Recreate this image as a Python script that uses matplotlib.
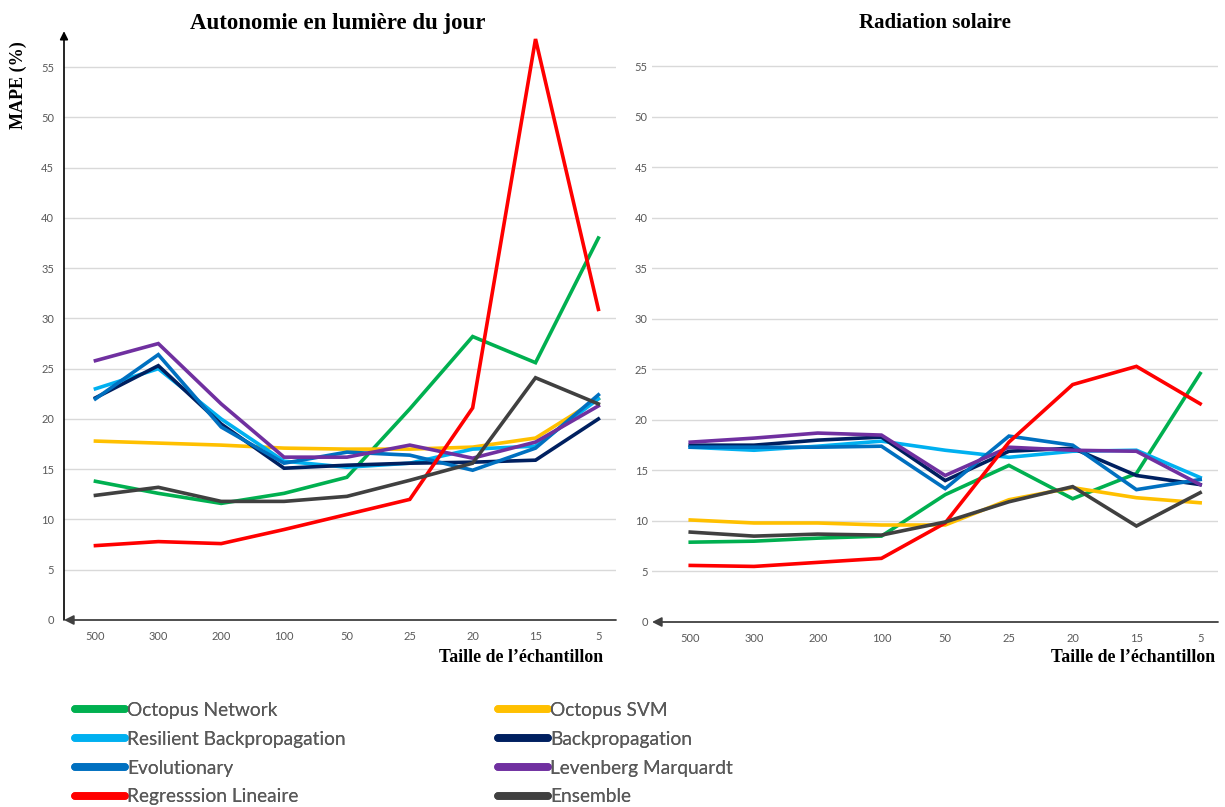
import numpy as np
import matplotlib
matplotlib.use("Agg")
import matplotlib.pyplot as plt
from matplotlib.lines import Line2D

# tailles d'echantillon (axe x)
tailles = ["500", "300", "200", "100", "50", "25", "20", "15", "5"]

noms = ["Octopus Network", "Octopus SVM", "Resilient Backpropagation", "Backpropagation",
        "Evolutionary", "Levenberg Marquardt", "Regresssion Lineaire", "Ensemble"]
couleurs = ["#00B050", "#FFC000", "#00B0F0", "#002060",
            "#0070C0", "#7030A0", "#FF0000", "#404040"]

# Autonomie en lumiere du jour - MAPE (%)
adj_octopus_net = [13.8, 12.6, 11.6, 12.6, 14.2, 21.0, 28.2, 25.6, 38.0]
adj_octopus_svm = [17.8, 17.6, 17.4, 17.1, 17.0, 17.0, 17.2, 18.1, 22.0]
adj_resilient = [23.0, 25.0, 20.0, 15.8, 15.2, 15.6, 17.0, 17.3, 22.0]
adj_backprop = [22.1, 25.3, 19.5, 15.1, 15.4, 15.6, 15.7, 15.9, 20.0]
adj_evolution = [22.0, 26.4, 19.2, 15.6, 16.7, 16.4, 14.9, 17.1, 22.4]
adj_levenberg = [25.8, 27.5, 21.5, 16.2, 16.2, 17.4, 16.1, 17.7, 21.3]
adj_regression = [7.4, 7.8, 7.6, 9.0, 10.5, 12.0, 21.1, 57.8, 30.9]
adj_ensemble = [12.4, 13.2, 11.8, 11.8, 12.3, 13.9, 15.6, 24.1, 21.5]

# Radiation solaire - MAPE (%)
rad_octopus_net = [7.9, 8.0, 8.3, 8.5, 12.6, 15.5, 12.2, 14.7, 24.6]
rad_octopus_svm = [10.1, 9.8, 9.8, 9.6, 9.6, 12.1, 13.3, 12.3, 11.8]
rad_resilient = [17.3, 17.0, 17.4, 17.9, 17.0, 16.3, 16.9, 17.0, 14.3]
rad_backprop = [17.5, 17.5, 18.0, 18.3, 14.0, 16.9, 17.2, 14.5, 13.6]
rad_evolution = [17.3, 17.3, 17.3, 17.4, 13.2, 18.4, 17.5, 13.1, 14.1]
rad_levenberg = [17.8, 18.2, 18.7, 18.5, 14.5, 17.3, 17.0, 16.9, 13.6]
rad_regression = [5.6, 5.5, 5.9, 6.3, 9.8, 17.8, 23.5, 25.3, 21.6]
rad_ensemble = [8.9, 8.5, 8.7, 8.6, 9.9, 11.9, 13.4, 9.5, 12.8]

series_adj = [adj_octopus_net, adj_octopus_svm, adj_resilient, adj_backprop,
              adj_evolution, adj_levenberg, adj_regression, adj_ensemble]
series_rad = [rad_octopus_net, rad_octopus_svm, rad_resilient, rad_backprop,
              rad_evolution, rad_levenberg, rad_regression, rad_ensemble]

police = ["Lato", "DejaVu Sans"]
serif = ["Liberation Serif", "DejaVu Serif"]
gris = "#595959"

W, H = 1225, 807
fig = plt.figure(figsize=(W / 100, H / 100), dpi=100)


def px_axes(x0, x1, ytop, ybot):
    return fig.add_axes([x0 / W, 1 - ybot / H, (x1 - x0) / W, (ybot - ytop) / H])


ax1 = px_axes(64, 616, 37, 620)
ax2 = px_axes(652, 1218, 36, 622)

x = np.arange(len(tailles))
for ax, series, titre, xl, pad_y, fs in [(ax1, series_adj, "Autonomie en lumière du jour", -0.5, 7, 16.5),
                                         (ax2, series_rad, "Radiation solaire", -0.6, 3, 15)]:
    for s, c in zip(series, couleurs):
        ax.plot(x, s, color=c, lw=2.6, solid_joinstyle="miter")
    ax.set_xlim(xl, 8.28)
    ax.set_ylim(0, 58)
    ax.set_yticks(np.arange(0, 60, 5))
    ax.set_xticks(x)
    ax.set_xticklabels(tailles)
    for yv in range(5, 60, 5):
        ax.axhline(yv, color="#D9D9D9", lw=1, zorder=0)
    for sp in ax.spines.values():
        sp.set_visible(False)
    ax.tick_params(length=0, labelsize=8, colors=gris)
    ax.tick_params(axis="y", pad=pad_y)
    ax.tick_params(axis="x", pad=8)
    for lab in ax.get_xticklabels() + ax.get_yticklabels():
        lab.set_family(police)
    ax.set_title(titre, fontsize=fs, fontweight="bold", family=serif, pad=6)
    # axe horizontal avec fleche vers la gauche
    ax.annotate("", xy=(0, 0), xytext=(1, 0), xycoords="axes fraction",
                arrowprops=dict(arrowstyle="-|>", color="#404040", lw=1.3, mutation_scale=14,
                                shrinkA=0, shrinkB=0))

# axe vertical avec fleche (graphique de gauche)
ax1.annotate("", xy=(0, 1.01), xytext=(0, 0), xycoords="axes fraction",
             arrowprops=dict(arrowstyle="-|>", color="#000000", lw=1.2, mutation_scale=12,
                             shrinkA=0, shrinkB=0))

ax1.title.set_position((0.495, 1.0))
fig.text(18 / W, 1 - 85 / H, "MAPE (%)", rotation=90, fontsize=13, fontweight="bold",
         family=serif, ha="center", va="center")
fig.text(603 / W, 1 - 657 / H, "Taille de l’échantillon", fontsize=12.8, fontweight="bold",
         family=serif, ha="right", va="center")
fig.text(1215 / W, 1 - 657 / H, "Taille de l’échantillon", fontsize=12.8, fontweight="bold",
         family=serif, ha="right", va="center")

# legende en deux colonnes
poignees = [Line2D([0], [0], color=c, lw=5.5, solid_capstyle="round") for c in couleurs]
for col, x0 in [(0, 75), (1, 498)]:
    idx = [col, col + 2, col + 4, col + 6]
    leg = fig.legend([poignees[i] for i in idx], [noms[i] for i in idx],
                     loc="upper left", bbox_to_anchor=(x0 / W, 1 - 702 / H),
                     frameon=False, borderpad=0, borderaxespad=0, handlelength=2.6,
                     handletextpad=0.12, labelspacing=0.615,
                     prop={"family": police, "size": 13.8})
    for t in leg.get_texts():
        t.set_color(gris)
    fig.add_artist(leg)

fig.savefig("out.png", dpi=100, facecolor="white")
